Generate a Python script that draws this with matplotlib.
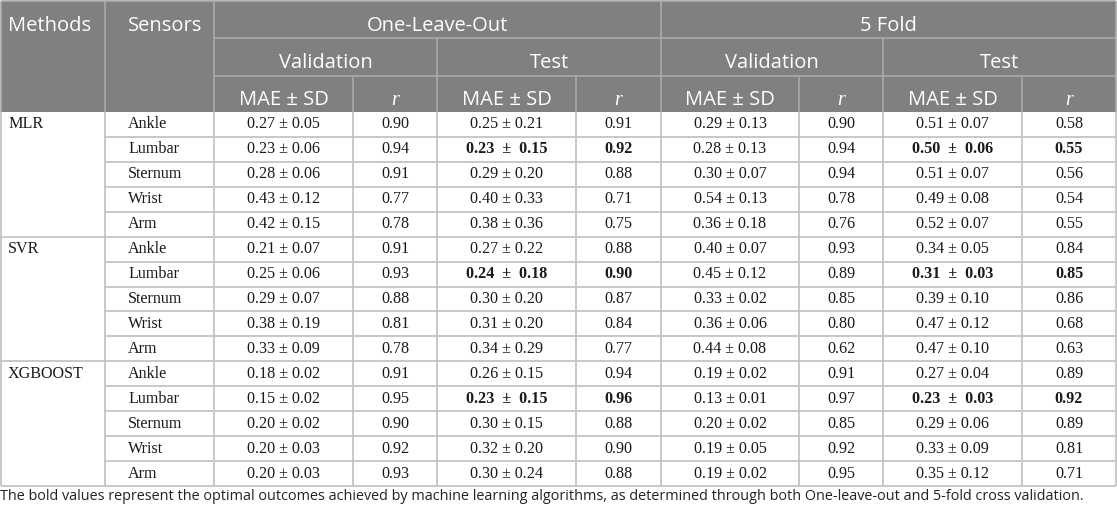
import matplotlib.pyplot as plt
import matplotlib.patches as mpatches

methods = ["MLR", "SVR", "XGBOOST"]
sensors = ["Ankle", "Lumbar", "Sternum", "Wrist", "Arm"]

# One-Leave-Out
olo_val_mae = [0.27, 0.23, 0.28, 0.43, 0.42, 0.21, 0.25, 0.29, 0.38, 0.33, 0.18, 0.15, 0.20, 0.20, 0.20]
olo_val_sd = [0.05, 0.06, 0.06, 0.12, 0.15, 0.07, 0.06, 0.07, 0.19, 0.09, 0.02, 0.02, 0.02, 0.03, 0.03]
olo_val_r = [0.90, 0.94, 0.91, 0.77, 0.78, 0.91, 0.93, 0.88, 0.81, 0.78, 0.91, 0.95, 0.90, 0.92, 0.93]
olo_test_mae = [0.25, 0.23, 0.29, 0.40, 0.38, 0.27, 0.24, 0.30, 0.31, 0.34, 0.26, 0.23, 0.30, 0.32, 0.30]
olo_test_sd = [0.21, 0.15, 0.20, 0.33, 0.36, 0.22, 0.18, 0.20, 0.20, 0.29, 0.15, 0.15, 0.15, 0.20, 0.24]
olo_test_r = [0.91, 0.92, 0.88, 0.71, 0.75, 0.88, 0.90, 0.87, 0.84, 0.77, 0.94, 0.96, 0.88, 0.90, 0.88]

# 5 Fold
kf_val_mae = [0.29, 0.28, 0.30, 0.54, 0.36, 0.40, 0.45, 0.33, 0.36, 0.44, 0.19, 0.13, 0.20, 0.19, 0.19]
kf_val_sd = [0.13, 0.13, 0.07, 0.13, 0.18, 0.07, 0.12, 0.02, 0.06, 0.08, 0.02, 0.01, 0.02, 0.05, 0.02]
kf_val_r = [0.90, 0.94, 0.94, 0.78, 0.76, 0.93, 0.89, 0.85, 0.80, 0.62, 0.91, 0.97, 0.85, 0.92, 0.95]
kf_test_mae = [0.51, 0.50, 0.51, 0.49, 0.52, 0.34, 0.31, 0.39, 0.47, 0.47, 0.27, 0.23, 0.29, 0.33, 0.35]
kf_test_sd = [0.07, 0.06, 0.07, 0.08, 0.07, 0.05, 0.03, 0.10, 0.12, 0.10, 0.04, 0.03, 0.06, 0.09, 0.12]
kf_test_r = [0.58, 0.55, 0.56, 0.54, 0.55, 0.84, 0.85, 0.86, 0.68, 0.63, 0.89, 0.92, 0.89, 0.81, 0.71]

bold_sensor = "Lumbar"

caption = ("The bold values represent the optimal outcomes achieved by machine learning algorithms, "
           "as determined through both One-leave-out and 5-fold cross validation.")

W, H = 1117, 514
fig = plt.figure(figsize=(W / 100, H / 100), dpi=100)
ax = fig.add_axes([0, 0, 1, 1])
ax.set_xlim(0, W)
ax.set_ylim(H, 0)
ax.axis("off")

col_x = [1, 105, 214, 353, 437, 576, 661, 799, 883, 1022, 1116]
hdr_y = [1, 38, 76, 112]
hdr_base = [31, 68, 105]
row_h = (486 - 112) / 15
body_top = 112

hdr_bg = "#808080"
hdr_line = "#a9a9a9"
grid = "#c4c4c4"
ink = "#1a1a1a"
sans = "Open Sans"
serif = "Liberation Serif"

# header background
ax.add_patch(mpatches.Rectangle((col_x[0], hdr_y[0]), col_x[-1] - col_x[0], hdr_y[3] - hdr_y[0],
                                 facecolor=hdr_bg, edgecolor="none"))
ax.hlines([hdr_y[0]], col_x[0], col_x[-1], color=hdr_line, lw=1.2)
ax.hlines([hdr_y[1], hdr_y[2]], col_x[2], col_x[-1], color=hdr_line, lw=1.2)
ax.vlines([col_x[0], col_x[1], col_x[2], col_x[6], col_x[-1]], hdr_y[0], hdr_y[3], color=hdr_line, lw=1.2)
ax.vlines([col_x[4], col_x[8]], hdr_y[1], hdr_y[3], color=hdr_line, lw=1.2)
ax.vlines([col_x[3], col_x[5], col_x[7], col_x[9]], hdr_y[2], hdr_y[3], color=hdr_line, lw=1.2)

hfs = 14.5
ax.text(8, hdr_base[0], "Methods", color="white", fontsize=hfs, family=sans, ha="left", va="baseline")
ax.text(128, hdr_base[0], "Sensors", color="white", fontsize=hfs, family=sans, ha="left", va="baseline")
for a, b, lab in [(2, 6, "One-Leave-Out"), (6, 10, "5 Fold")]:
    ax.text((col_x[a] + col_x[b]) / 2, hdr_base[0], lab, color="white", fontsize=hfs,
            family=sans, ha="center", va="baseline")
for a, lab in [(2, "Validation"), (4, "Test"), (6, "Validation"), (8, "Test")]:
    ax.text((col_x[a] + col_x[a + 2]) / 2, hdr_base[1], lab, color="white", fontsize=hfs,
            family=sans, ha="center", va="baseline")
for i in range(2, 10):
    xc = (col_x[i] + col_x[i + 1]) / 2
    if i % 2 == 0:
        ax.text(xc, hdr_base[2], "MAE \u00b1 SD", color="white", fontsize=hfs, family=sans,
                ha="center", va="baseline")
    else:
        ax.text(xc, hdr_base[2], "r", color="white", fontsize=hfs, family=serif, style="italic",
                ha="center", va="baseline")

# body
bfs = 11.6
n = len(methods) * len(sensors)
series = [(olo_val_mae, olo_val_sd, olo_val_r, False), (olo_test_mae, olo_test_sd, olo_test_r, True),
          (kf_val_mae, kf_val_sd, kf_val_r, False), (kf_test_mae, kf_test_sd, kf_test_r, True)]
for k in range(n):
    y0 = body_top + k * row_h
    yc = y0 + row_h / 2
    m, s = divmod(k, len(sensors))
    if s == 0:
        ax.text(8, yc, methods[m], fontsize=bfs, family=serif, ha="left", va="center", color=ink)
    ax.text(128, yc, sensors[s], fontsize=bfs, family=serif, ha="left", va="center", color=ink)
    is_bold = sensors[s] == bold_sensor
    for j, (mae, sd, rr, test) in enumerate(series):
        c = 2 + 2 * j
        w = "bold" if (is_bold and test) else "normal"
        sep = "  \u00b1  " if w == "bold" else " \u00b1 "
        ax.text((col_x[c] + col_x[c + 1]) / 2, yc, f"{mae[k]:.2f}{sep}{sd[k]:.2f}", fontsize=bfs,
                family=serif, weight=w, ha="center", va="center", color=ink)
        ax.text((col_x[c + 1] + col_x[c + 2]) / 2, yc, f"{rr[k]:.2f}", fontsize=bfs,
                family=serif, weight=w, ha="center", va="center", color=ink)

# body grid
for k in range(1, n + 1):
    y = body_top + k * row_h
    x_start = col_x[0] if (k % len(sensors) == 0) else col_x[1]
    ax.hlines(y, x_start, col_x[-1], color=grid, lw=1.3)
ax.vlines(col_x, body_top, body_top + n * row_h, color=grid, lw=1.3)

ax.text(0, 497, caption, fontsize=10.4, family=sans, ha="left", va="center", color="#222222")

fig.savefig("out.png", dpi=100)
